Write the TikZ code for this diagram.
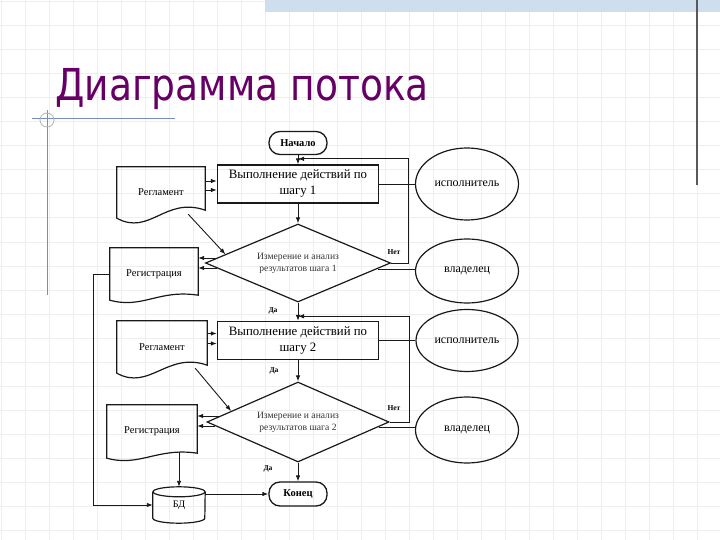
\documentclass[tikz,border=0pt]{standalone}
\usepackage{fontspec}
\setmainfont{Liberation Serif}
\newfontfamily\titlefont{DejaVu Sans}
\usetikzlibrary{shapes.geometric,arrows.meta,calc}
\definecolor{titlecol}{RGB}{102,0,102}
\definecolor{gridcol}{RGB}{238,238,238}
\definecolor{bandcol}{RGB}{206,222,238}
\definecolor{decoblue}{RGB}{120,140,196}
\tikzset{
  shp/.style={draw=black!90, line width=1.2pt},
  boxn/.style={draw=black!90, line width=1.3pt, minimum width=161pt, minimum height=38pt, align=center, inner sep=0, font=\fontsize{12.8}{16}\selectfont},
  term/.style={draw=black!90, line width=1.3pt, rounded corners=11pt, minimum width=58pt, minimum height=23pt, inner sep=0, font=\bfseries\fontsize{10.5}{12}\selectfont},
  dia/.style={diamond, draw=black!90, line width=1.2pt, aspect=2.4, inner sep=0, align=center, text=black!80, font=\fontsize{9.6}{12}\selectfont},
  ell/.style={ellipse, draw=black!90, line width=1.2pt, inner sep=0, font=\fontsize{12}{14}\selectfont},
  docn/.style={inner sep=0, font=\fontsize{10.5}{12}\selectfont},
  con/.style={line width=0.9pt, draw=black!90},
  arr/.style={con, -{Latex[length=6pt,width=4.5pt]}},
  lab/.style={inner sep=0, font=\bfseries\fontsize{7.5}{9}\selectfont}
}
\newcommand\reglout[1]{\draw[shp] (#1.north west) -- (#1.north east) -- ([yshift=8pt]#1.south east) .. controls +(-40,-14) and +(33,18) .. (#1.south west) -- cycle;}
\newcommand\regiout[1]{\draw[shp] (#1.north west) -- (#1.north east) -- ([yshift=5pt]#1.south east) .. controls +(-40,-6) and +(33,9) .. (#1.south west) -- cycle;}
\begin{document}
\begin{tikzpicture}[x=1pt,y=-1pt]
\useasboundingbox (0,0) rectangle (720,540);
% background grid
\foreach \gx in {1,25,...,720} \draw[gridcol, line width=1pt] (\gx,0) -- (\gx,540);
\foreach \gy in {2,26,...,540} \draw[gridcol, line width=1pt] (0,\gy) -- (720,\gy);
% decorations
\fill[bandcol] (265,0) rectangle (720,12);
\draw[black!65, line width=1.3pt] (697,0) -- (697,185);
\draw[decoblue, line width=1pt] (47,110) -- (47,295);
\draw[decoblue, line width=1pt] (32,119) -- (175,119);
\draw[gray!60, line width=0.8pt] (47,120) circle[radius=7pt];
% title
\node[anchor=base west, text=titlecol, inner sep=0] (title) at (55,101) {\titlefont\fontsize{44}{50}\selectfont\scalebox{0.855}[1]{Диаграмма потока}};
% nodes
\node[term] (nach) at (298,143) {Начало};
\node[boxn] (b1) at (298,184) {Выполнение действий по\\шагу 1};
\node[ell, minimum width=103pt, minimum height=72pt] (isp1) at (467,184) {исполнитель};
\node[dia, minimum width=185pt, minimum height=78pt] (d1) at (298,263) {Измерение и анализ\\результатов шага 1};
\node[ell, minimum width=103pt, minimum height=64pt] (vl1) at (467,271) {владелец};
\node[docn, minimum width=88pt, minimum height=51pt] (rg1) at (161,192.5) {Регламент};
\node[docn, minimum width=88pt, minimum height=52pt] (reg1) at (154,274) {Регистрация};
\node[boxn] (b2) at (298,340.5) {Выполнение действий по\\шагу 2};
\node[ell, minimum width=102pt, minimum height=62pt] (isp2) at (467,340.5) {исполнитель};
\node[dia, minimum width=182pt, minimum height=80pt] (d2) at (298,422) {Измерение и анализ\\результатов шага 2};
\node[ell, minimum width=103pt, minimum height=66pt] (vl2) at (467,430) {владелец};
\node[docn, minimum width=90pt, minimum height=52pt] (rg2) at (162,347) {Регламент};
\node[docn, minimum width=90pt, minimum height=53pt] (reg2) at (152,431.5) {Регистрация};
\node[term, minimum height=24pt] (kon) at (298,494) {Конец};
\node[inner sep=0, minimum width=52pt, minimum height=36pt, font=\fontsize{10}{12}\selectfont] (bd) at (179,505) {БД};
% document outlines
\reglout{rg1}
\reglout{rg2}
\regiout{reg1}
\regiout{reg2}
% cylinder
\draw[shp] ([yshift=-5pt]bd.north west) -- ([yshift=5pt]bd.south west) arc[start angle=180, end angle=360, x radius=26pt, y radius=5pt] -- ([yshift=-5pt]bd.north east);
\draw[shp] ([yshift=-5pt]bd.north) ellipse[x radius=26pt, y radius=5pt];
% main flow
\draw[arr] (nach) -- (b1);
\draw[arr] (b1) -- (d1);
\draw[arr] (d1) -- (b2);
\draw[arr] (b2) -- (d2);
\draw[arr] (d2) -- (kon);
\draw[con] (b1) -- (isp1);
\draw[con] (b2) -- (isp2);
% loops back
\coordinate (j1) at ($(nach.south)!0.4!(b1.north)$);
\coordinate (j2) at ($(d1.south)!0.75!(b2.north)$);
\draw[arr] (d1.east) -- ++(17,0) |- (j1);
\draw[arr] (d2.east) -- ++(20,0) |- (j2);
% diamond to owner
\coordinate (v1s) at ($(d1.east)+(-13,6)$);
\coordinate (v2s) at ($(d2.east)+(-11,5)$);
\draw[con] (v1s) -- (v1s -| vl1.west);
\draw[con] (v2s) -- (v2s -| vl2.west);
% reglament to boxes
\coordinate (a1) at ($(b1.west)+(0,-3)$);
\coordinate (a2) at ($(b1.west)+(0,6)$);
\coordinate (a3) at ($(b2.west)+(0,-7)$);
\coordinate (a4) at ($(b2.west)+(0,3)$);
\draw[arr] (a1 -| rg1.east) -- (a1);
\draw[arr] (a2 -| rg1.east) -- (a2);
\draw[arr] (a3 -| rg2.east) -- (a3);
\draw[arr] (a4 -| rg2.east) -- (a4);
% reglament to diamonds
\draw[arr] ($(rg1.south east)+(-17,-4)$) -- ($(d1.west)!0.22!(d1.north)$);
\draw[arr] ($(rg2.south east)+(-12,-5)$) -- ($(d2.west)!0.27!(d2.north)$);
% diamonds to registration
\coordinate (c1) at ($(d1.west)+(12,-5)$);
\coordinate (c2) at ($(d1.west)+(12,5)$);
\coordinate (c3) at ($(d2.west)+(14,-6)$);
\coordinate (c4) at ($(d2.west)+(9,4)$);
\draw[arr] (c1) -- (c1 -| reg1.east);
\draw[arr] (c2) -- (c2 -| reg1.east);
\draw[arr] (c3) -- (c3 -| reg2.east);
\draw[arr] (c4) -- (c4 -| reg2.east);
% registration to DB
\coordinate (lc) at ($(reg1.west)+(-16,0)$);
\draw[arr] (reg1.west) -- (lc) |- (bd.west);
\draw[arr] ($(bd.north |- reg2.south)+(0,-6)$) -- (bd.north);
\draw[arr] (kon.west -| bd.east) -- (kon.west);
% labels
\node[lab] (da1) at (273,311) {Да};
\node[lab] (da2) at (274,371) {Да};
\node[lab] (da3) at (268,469) {Да};
\node[lab] (net1) at (394,252) {Нет};
\node[lab] (net2) at (394,408) {Нет};
\end{tikzpicture}
\end{document}
